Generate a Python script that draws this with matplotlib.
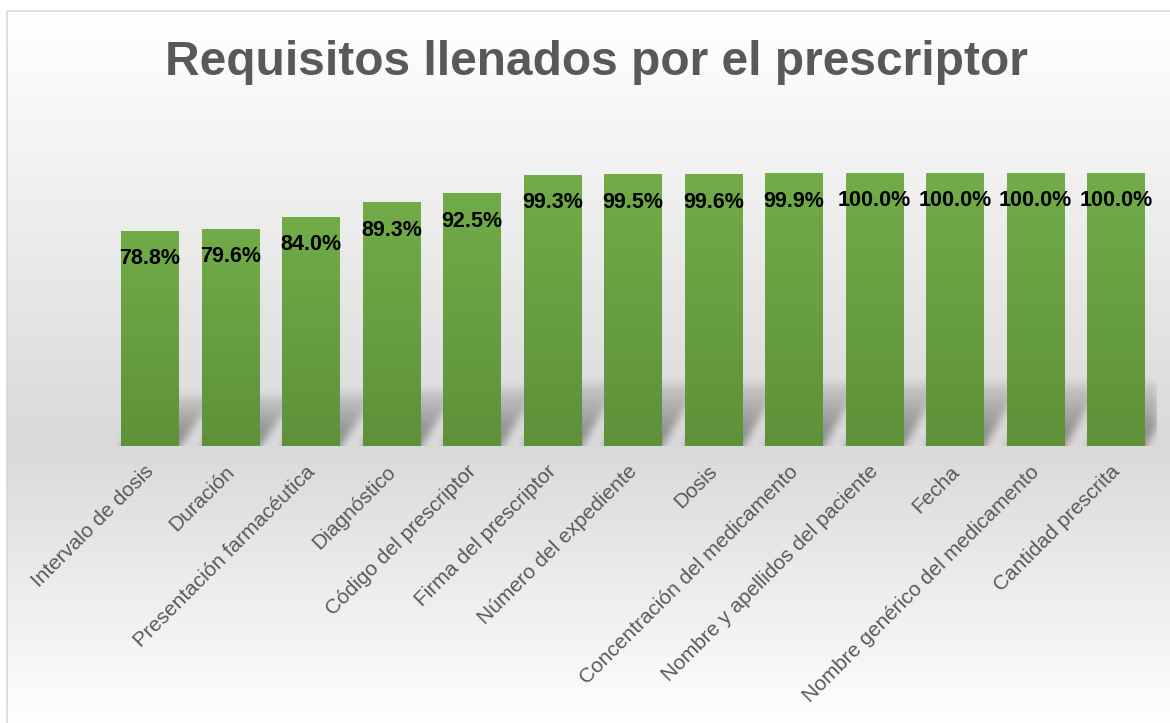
import numpy as np
import matplotlib
matplotlib.use("Agg")
import matplotlib.pyplot as plt
import matplotlib.transforms as mtransforms
from matplotlib.patches import Rectangle

categories = ["Intervalo de dosis", "Duración", "Presentación farmacéutica", "Diagnóstico",
              "Código del prescriptor", "Firma del prescriptor", "Número del expediente", "Dosis",
              "Concentración del medicamento", "Nombre y apellidos del paciente", "Fecha",
              "Nombre genérico del medicamento", "Cantidad prescrita"]
values = [78.8, 79.6, 84.0, 89.3, 92.5, 99.3, 99.5, 99.6, 99.9, 100.0, 100.0, 100.0, 100.0]
title = "Requisitos llenados por el prescriptor"

W, H = 1170, 723
plt.rcParams['font.family'] = ['Liberation Sans', 'DejaVu Sans']
fig = plt.figure(figsize=(W / 100, H / 100), dpi=100)

# background
bg = fig.add_axes([0, 0, 1, 1], zorder=-10)
bg.axis('off')
rows = np.arange(H)
top_y, mid_y, bot_y = 10, 440, 723
g = np.where(rows < mid_y,
             255 - (255 - 217) * np.clip((rows - top_y) / (mid_y - top_y), 0, 1),
             217 + (255 - 217) * np.clip((rows - mid_y) / (bot_y - mid_y), 0, 1)) / 255.0
grad = np.repeat(g[:, None], 2, axis=1)
img = np.dstack([grad, grad, grad])
bg.imshow(img, extent=(6, W, H, 10), aspect='auto', interpolation='bilinear')
bg.add_patch(Rectangle((6.5, 10.5), W, H, fill=False, edgecolor='#d9d9d9', lw=1.2))
bg.set_xlim(0, W); bg.set_ylim(H, 0)

# main axes
x_left, x_right, y_base, y_top = 109.75, 1156.25, 446, 173
ax = fig.add_axes([x_left / W, (H - y_base) / H, (x_right - x_left) / W, (y_base - y_top) / H])
ax.patch.set_alpha(0)
for s in ax.spines.values():
    s.set_visible(False)
ax.set_yticks([])
ax.set_xticks([])

x = np.arange(len(values))
bw = 0.72
bars = ax.bar(x, values, width=bw, color='#67a041', zorder=3)

# perspective shadows (derived from the bars)
nx, ny = 1047, 110
ymax_sh = 40.0
xs = -0.5 + (np.arange(nx) + 0.5) / nx * len(values)
ys = (np.arange(ny) + 0.5) / ny * ymax_sh
XX, YY = np.meshgrid(xs, ys)
sh = np.zeros_like(XX)
for b in bars:
    v = b.get_height()
    x0 = b.get_x(); x1 = x0 + b.get_width()
    h = 0.23 * v
    shift = 0.46 * YY / h
    m = (YY <= h) & (XX >= x0 + shift) & (XX <= x1 + shift)
    fade = np.clip(1.15 - 0.9 * YY / h, 0, 1)
    sh = np.maximum(sh, m * fade)
sig = 4.0
kx = np.exp(-0.5 * (np.arange(-14, 15) / sig) ** 2); kx /= kx.sum()
sh = np.apply_along_axis(lambda r: np.convolve(r, kx, mode='same'), 1, sh)
sig_y = 4.0
ky = np.exp(-0.5 * (np.arange(-12, 13) / sig_y) ** 2); ky /= ky.sum()
pad = np.vstack([sh[:1].repeat(12, 0), sh, sh[-1:].repeat(12, 0)])
sh = np.apply_along_axis(lambda c: np.convolve(c, ky, mode='valid'), 0, pad)
rgba = np.zeros((ny, nx, 4))
rgba[..., 3] = 0.36 * sh
ax.imshow(rgba[::-1], extent=(-0.5, len(values) - 0.5, 0, ymax_sh), aspect='auto',
          zorder=2, interpolation='bilinear')

# bar gradients
top_c = np.array([0.443, 0.675, 0.282])
bot_c = np.array([0.369, 0.569, 0.227])
for b in bars:
    t = np.linspace(1, 0, 100)[:, None]
    col = (bot_c[None, :] * (1 - t) + top_c[None, :] * t)
    gimg = np.repeat(col[:, None, :], 2, axis=1)
    im = ax.imshow(gimg, extent=(b.get_x(), b.get_x() + b.get_width(), 0, b.get_height()),
                   aspect='auto', zorder=4, interpolation='bilinear')
    im.set_clip_path(b)

ax.set_xlim(-0.5, len(values) - 0.5)
ax.set_ylim(0, 100)

for xi, v in zip(x, values):
    ax.annotate(f"{v:.1f}%", xy=(xi, v), xytext=(0, -33.5), textcoords='offset pixels',
                ha='center', va='baseline', fontsize=15.5, fontweight='bold', color='black',
                zorder=6, annotation_clip=False)

trans = ax.get_xaxis_transform() + mtransforms.ScaledTranslation(0, -16 / 100, fig.dpi_scale_trans)
for xi, c in zip(x, categories):
    ax.text(xi - 0.07, 0, c, transform=trans, rotation=45, rotation_mode='anchor',
            ha='right', va='top', fontsize=15, color='#595959')

fig.text(596 / W, 1 - 75 / H, title, ha='center', va='baseline', fontsize=34.5,
         fontweight='bold', color='#595959')

fig.savefig('out.png', dpi=100)
